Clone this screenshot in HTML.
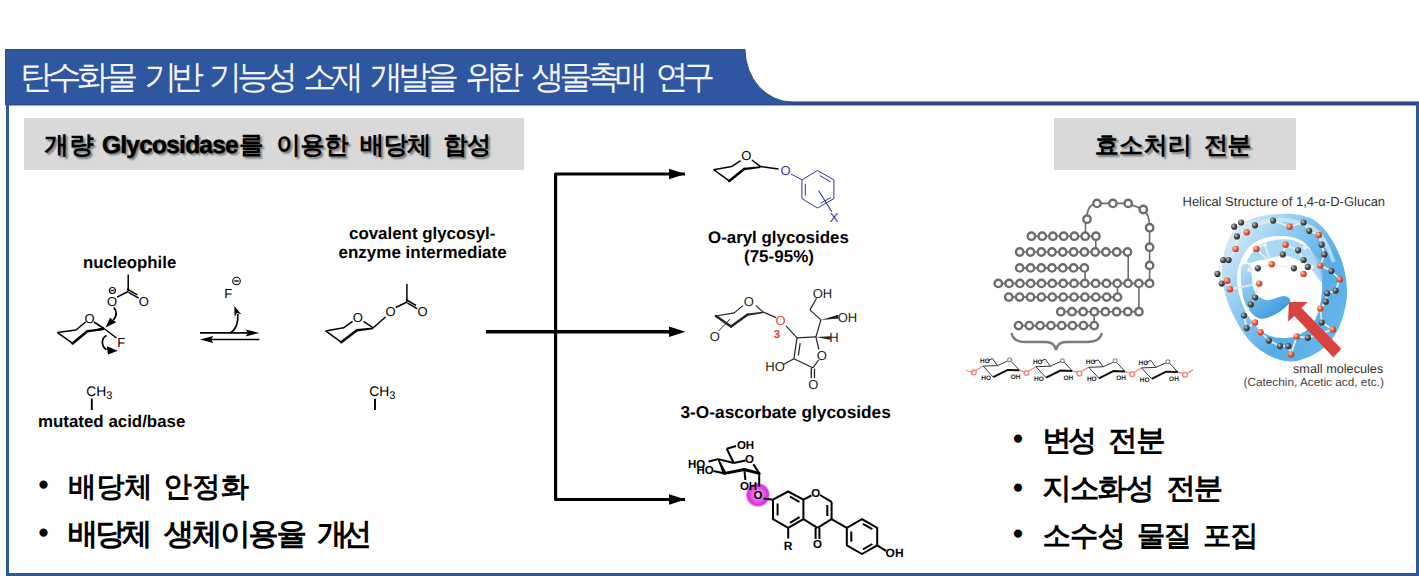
<!DOCTYPE html>
<html lang="ko"><head><meta charset="utf-8"><title>탄수화물 기반 기능성 소재 개발을 위한 생물촉매 연구</title>
<style>
html,body{margin:0;padding:0;background:#fff;}
body{width:1419px;height:576px;overflow:hidden;position:relative;font-family:"Liberation Sans",sans-serif;text-rendering:geometricPrecision;}
svg.g{position:absolute;left:0;top:0;font-family:"Liberation Sans",sans-serif;}
.t{position:absolute;white-space:nowrap;}
.ttl{color:#F4F4F6;-webkit-text-stroke:1.2px #F4F4F6;}
.lab{font-weight:bold;color:#000;text-shadow:2px 2px 2px rgba(0,0,0,.45);}
.lk{-webkit-text-stroke:1.9px #000;}
.kb{font-weight:bold;color:#000;-webkit-text-stroke:2.4px #000;}
body.hangul .kw{left:var(--l2)!important;top:var(--t2)!important;font-size:var(--fs2)!important;line-height:var(--lh2)!important;letter-spacing:var(--ls2)!important;-webkit-text-stroke:0!important;}
</style></head><body>
<svg class="g" width="1419" height="576" viewBox="0 0 1419 576">
<defs>
<radialGradient id="mg" cx="0.5" cy="0.5" r="0.5"><stop offset="0" stop-color="#f8c8f8"/><stop offset="0.5" stop-color="#e860ea"/><stop offset="0.85" stop-color="#d62fdc"/><stop offset="1" stop-color="#e070e4" stop-opacity="0.6"/></radialGradient>
<linearGradient id="hb" x1="0" y1="0.1" x2="1" y2="0.9"><stop offset="0" stop-color="#e2f2fc"/><stop offset="0.3" stop-color="#98cff2"/><stop offset="0.65" stop-color="#55ade8"/><stop offset="1" stop-color="#6cbaec"/></linearGradient>
<linearGradient id="hi" x1="0" y1="0" x2="0.6" y2="1"><stop offset="0" stop-color="#bfe2f7"/><stop offset="1" stop-color="#3e9de0"/></linearGradient>
<radialGradient id="ag" cx="0.35" cy="0.35" r="0.7"><stop offset="0" stop-color="#c8c8c8"/><stop offset="0.5" stop-color="#555"/><stop offset="1" stop-color="#222"/></radialGradient>
<radialGradient id="ar" cx="0.35" cy="0.35" r="0.7"><stop offset="0" stop-color="#ffd0b0"/><stop offset="0.5" stop-color="#f06040"/><stop offset="1" stop-color="#b83020"/></radialGradient>
</defs>
<path d="M5.5,49.5 H745 A47,53 0 0 0 792,102 H1419 V105 H5.5 Z" fill="#2F56A0" stroke="#2B4B85" stroke-width="1"/>
<rect x="790" y="101.8" width="629" height="3.2" fill="#2B4B85"/>
<rect x="6" y="104" width="3" height="472" fill="#2F56A0"/>
<rect x="1416" y="103" width="3" height="473" fill="#2F56A0"/>
<rect x="6" y="573" width="1413" height="3" fill="#2F56A0"/>
<rect x="24" y="118" width="500" height="52" fill="#D9D9D9"/>
<rect x="1054" y="118" width="242" height="52" fill="#D9D9D9"/>
<path d="M685,174 H555.6 V499.5 H685" fill="none" stroke="#000" stroke-width="3.2" stroke-linejoin="round"/>
<path d="M486,331.8 H675" fill="none" stroke="#000" stroke-width="3.4"/>
<path d="M669,168.8 L685.5,174 L669,179.2 Z" fill="#000"/>
<path d="M669,326.6 L685.5,331.8 L669,337.0 Z" fill="#000"/>
<path d="M669,494.3 L685.5,499.5 L669,504.7 Z" fill="#000"/>
<path d="M57.3,332.4 L72.6,343.4" fill="none" stroke="#000" stroke-width="1.5" stroke-linejoin="round"/>
<line x1="72.6" y1="343.4" x2="87.3" y2="331.2" stroke="#000" stroke-width="2.6" stroke-linecap="round"/>
<path d="M87.3,331.5 L104.3,330.0 L103.7,327.0 Z" fill="#000"/>
<path d="M87.3,330.0 L104,328.2 L104,330.0 L87.3,332.5 Z" fill="#000"/>
<path d="M57.3,332.4 L76.0,330.0 L85.6,322.0" fill="none" stroke="#000" stroke-width="1.5" stroke-linejoin="round"/>
<line x1="94.0" y1="322.0" x2="104.0" y2="328.5" stroke="#000" stroke-width="1.5" stroke-linecap="butt"/>
<text x="89.6" y="322.9" font-size="13" fill="#000" font-weight="normal" text-anchor="middle">O</text>
<line x1="104.0" y1="328.5" x2="116.5" y2="338.0" stroke="#000" stroke-width="1.5" stroke-linecap="butt"/>
<text x="121.3" y="346.8" font-size="13" fill="#000" font-weight="normal" text-anchor="middle">F</text>
<path d="M113.8,307.5 C116.8,311 117,315.5 113.5,320" fill="none" stroke="#000" stroke-width="1.7"/>
<path d="M105.5,327.5 L110.0,317.8 L116.2,322.3 Z" fill="#000"/>
<path d="M106.5,335.5 C101.5,338 100.5,345.5 106.5,349.8" fill="none" stroke="#000" stroke-width="1.7"/>
<path d="M117.8,350.8 L106.8,346.2 L108.0,354.6 Z" fill="#000"/>
<text x="112.0" y="306.3" font-size="13" fill="#000" font-weight="normal" text-anchor="middle">O</text>
<circle cx="112.4" cy="290.5" r="3.0" fill="none" stroke="#000" stroke-width="1.1"/>
<line x1="110.6" y1="290.5" x2="114.2" y2="290.5" stroke="#000" stroke-width="1.3" stroke-linecap="butt"/>
<line x1="117.1" y1="297.1" x2="128.2" y2="291.5" stroke="#000" stroke-width="1.5" stroke-linecap="butt"/>
<line x1="128.2" y1="291.5" x2="128.2" y2="274.5" stroke="#000" stroke-width="1.5" stroke-linecap="butt"/>
<line x1="128.6" y1="292.3" x2="138.7" y2="298.2" stroke="#000" stroke-width="1.5" stroke-linecap="butt"/>
<line x1="127.0" y1="288.9" x2="137.3" y2="294.8" stroke="#000" stroke-width="1.5" stroke-linecap="butt"/>
<text x="143.7" y="306.3" font-size="13" fill="#000" font-weight="normal" text-anchor="middle">O</text>
<text x="228.2" y="297.7" font-size="13" fill="#000" font-weight="normal" text-anchor="middle">F</text>
<circle cx="236.5" cy="281.0" r="3.8" fill="none" stroke="#000" stroke-width="1.1"/>
<line x1="234.2" y1="281.0" x2="238.8" y2="281.0" stroke="#000" stroke-width="1.3" stroke-linecap="butt"/>
<line x1="200.0" y1="332.9" x2="250.0" y2="332.9" stroke="#000" stroke-width="1.6" stroke-linecap="butt"/>
<path d="M259.4,332.9 L245.6,329.4 L248,332.9 L245.6,336.4 Z" fill="#000"/>
<line x1="209.0" y1="339.5" x2="259.4" y2="339.5" stroke="#000" stroke-width="1.6" stroke-linecap="butt"/>
<path d="M200,339.5 L213.4,336.0 L211,339.5 L213.4,343.0 Z" fill="#000"/>
<path d="M230,332.9 C236,330 238.5,322 237.8,314" fill="none" stroke="#000" stroke-width="1.7"/>
<path d="M234.3,306.0 L241.3,314.2 L237.0,313.1 L234.5,316.8 Z" fill="#000"/>
<text x="86.3" y="395.9" font-size="13.8" fill="#000" font-weight="normal" text-anchor="start">CH<tspan font-size="11" dy="2.8">3</tspan></text>
<line x1="91.8" y1="398.6" x2="91.8" y2="410.0" stroke="#000" stroke-width="1.9" stroke-linecap="butt"/>
<text x="369.3" y="395.9" font-size="13.8" fill="#000" font-weight="normal" text-anchor="start">CH<tspan font-size="11" dy="2.8">3</tspan></text>
<line x1="375.0" y1="398.8" x2="375.0" y2="410.0" stroke="#000" stroke-width="1.9" stroke-linecap="butt"/>
<path d="M325.6,330.9 L341.2,342.2" fill="none" stroke="#000" stroke-width="1.5" stroke-linejoin="round"/>
<line x1="341.2" y1="342.2" x2="356.9" y2="330.2" stroke="#000" stroke-width="2.6" stroke-linecap="round"/>
<path d="M356.9,329.0 L373.3,327.5 L373.3,329.3 L356.9,331.5 Z" fill="#000"/>
<path d="M325.6,330.9 L343.6,327.8 L352.6,321.3" fill="none" stroke="#000" stroke-width="1.5" stroke-linejoin="round"/>
<line x1="363.5" y1="321.3" x2="373.3" y2="327.8" stroke="#000" stroke-width="1.5" stroke-linecap="butt"/>
<text x="357.7" y="321.6" font-size="13" fill="#000" font-weight="normal" text-anchor="middle">O</text>
<line x1="373.3" y1="327.8" x2="385.5" y2="317.0" stroke="#000" stroke-width="1.5" stroke-linecap="butt"/>
<text x="390.5" y="316.1" font-size="13" fill="#000" font-weight="normal" text-anchor="middle">O</text>
<line x1="395.8" y1="307.5" x2="406.9" y2="302.0" stroke="#000" stroke-width="1.5" stroke-linecap="butt"/>
<line x1="406.9" y1="302.0" x2="406.9" y2="284.0" stroke="#000" stroke-width="1.5" stroke-linecap="butt"/>
<line x1="407.3" y1="302.8" x2="417.4" y2="308.9" stroke="#000" stroke-width="1.5" stroke-linecap="butt"/>
<line x1="405.8" y1="299.4" x2="416.0" y2="305.5" stroke="#000" stroke-width="1.5" stroke-linecap="butt"/>
<text x="422.5" y="316.1" font-size="13" fill="#000" font-weight="normal" text-anchor="middle">O</text>
<path d="M713.6,169.7 L729.2,180.9" fill="none" stroke="#000" stroke-width="1.5" stroke-linejoin="round"/>
<line x1="729.2" y1="180.9" x2="744.1" y2="168.9" stroke="#000" stroke-width="2.6" stroke-linecap="round"/>
<path d="M744.1,167.70000000000002 L760.5,166.29999999999998 L760.5,168.1 L744.1,170.20000000000002 Z" fill="#000"/>
<path d="M713.6,169.7 L731.6,166.6 L740.6,160.6" fill="none" stroke="#000" stroke-width="1.5" stroke-linejoin="round"/>
<line x1="751.9" y1="160.0" x2="760.5" y2="166.6" stroke="#000" stroke-width="1.5" stroke-linecap="butt"/>
<text x="746.4" y="160.3" font-size="13" fill="#000" font-weight="normal" text-anchor="middle">O</text>
<line x1="760.5" y1="166.6" x2="778.5" y2="169.0" stroke="#000" stroke-width="1.5" stroke-linecap="butt"/>
<text x="785.5" y="175.2" font-size="13" fill="#33339A" font-weight="normal" text-anchor="middle">O</text>
<line x1="791.0" y1="174.0" x2="801.9" y2="179.8" stroke="#33339A" stroke-width="1.0" stroke-linecap="butt"/>
<path d="M801.9,179.8 L817.5,170.5 L833.9,179.8 L833.9,198.6 L817.5,208.0 L801.9,198.6 Z" fill="none" stroke="#33339A" stroke-width="1.0" stroke-linejoin="round"/>
<line x1="819.8" y1="175.6" x2="830.8" y2="182.0" stroke="#33339A" stroke-width="1.0" stroke-linecap="butt"/>
<line x1="805.3" y1="183.7" x2="805.3" y2="195.5" stroke="#33339A" stroke-width="1.0" stroke-linecap="butt"/>
<line x1="820.6" y1="203.3" x2="830.8" y2="197.5" stroke="#33339A" stroke-width="1.0" stroke-linecap="butt"/>
<line x1="818.5" y1="190.5" x2="831.8" y2="211.8" stroke="#33339A" stroke-width="1.1" stroke-linecap="butt"/>
<text x="834.2" y="221.9" font-size="13" fill="#33339A" font-weight="normal" text-anchor="middle">X</text>
<line x1="715.9" y1="316.0" x2="731.0" y2="326.5" stroke="#222" stroke-width="2.4" stroke-linecap="round"/>
<line x1="731.0" y1="326.5" x2="747.7" y2="314.5" stroke="#222" stroke-width="2.4" stroke-linecap="round"/>
<path d="M747.7,313.4 L762.8,311.7 L762.8,313.2 L747.7,315.7 Z" fill="#222"/>
<path d="M715.9,316.0 L734.2,312.9 L743.0,305.6" fill="none" stroke="#222" stroke-width="1.2" stroke-linejoin="round"/>
<line x1="756.0" y1="305.6" x2="762.8" y2="311.9" stroke="#222" stroke-width="1.2" stroke-linecap="butt"/>
<text x="748.8" y="305.7" font-size="13" fill="#222" font-weight="normal" text-anchor="middle">O</text>
<line x1="730.2" y1="319.0" x2="718.6" y2="331.0" stroke="#222" stroke-width="1.0" stroke-linecap="butt"/>
<text x="714.9" y="340.5" font-size="13" fill="#222" font-weight="normal" text-anchor="middle">O</text>
<line x1="762.8" y1="311.9" x2="776.2" y2="317.6" stroke="#222" stroke-width="1.2" stroke-linecap="butt"/>
<text x="780.6" y="324.9" font-size="13" fill="#E8413C" font-weight="normal" text-anchor="middle">O</text>
<text x="777.0" y="338.0" font-size="11.5" fill="#E8413C" font-weight="bold" text-anchor="middle">3</text>
<line x1="786.0" y1="325.9" x2="797.0" y2="337.9" stroke="#222" stroke-width="1.2" stroke-linecap="butt"/>
<line x1="797.0" y1="337.9" x2="815.9" y2="336.9" stroke="#222" stroke-width="1.2" stroke-linecap="butt"/>
<path d="M815.9,336.9 L830.4,339.8 L830.6,336.2 Z" fill="#222"/>
<text x="833.9" y="341.6" font-size="13" fill="#222" font-weight="normal" text-anchor="middle">H</text>
<line x1="815.9" y1="336.9" x2="820.9" y2="319.9" stroke="#222" stroke-width="1.2" stroke-linecap="butt"/>
<path d="M820.9,319.9 L838.9,318.5 L838.1,314.7 Z" fill="#222"/>
<text x="847.5" y="321.6" font-size="13" fill="#222" font-weight="normal" text-anchor="middle">OH</text>
<line x1="820.9" y1="319.9" x2="809.9" y2="309.9" stroke="#222" stroke-width="1.2" stroke-linecap="butt"/>
<line x1="809.9" y1="309.9" x2="816.5" y2="298.5" stroke="#222" stroke-width="1.2" stroke-linecap="butt"/>
<text x="822.5" y="297.7" font-size="13" fill="#222" font-weight="normal" text-anchor="middle">OH</text>
<line x1="815.9" y1="336.9" x2="818.9" y2="349.5" stroke="#222" stroke-width="1.2" stroke-linecap="butt"/>
<text x="821.9" y="359.6" font-size="13" fill="#222" font-weight="normal" text-anchor="middle">O</text>
<line x1="818.6" y1="360.0" x2="812.9" y2="367.8" stroke="#222" stroke-width="1.2" stroke-linecap="butt"/>
<line x1="811.3" y1="367.8" x2="811.3" y2="378.2" stroke="#222" stroke-width="1.3" stroke-linecap="butt"/>
<line x1="814.5" y1="368.6" x2="814.5" y2="378.2" stroke="#222" stroke-width="1.3" stroke-linecap="butt"/>
<text x="813.4" y="388.5" font-size="13" fill="#222" font-weight="normal" text-anchor="middle">O</text>
<line x1="812.9" y1="367.8" x2="793.9" y2="358.8" stroke="#222" stroke-width="1.2" stroke-linecap="butt"/>
<line x1="793.9" y1="358.8" x2="797.0" y2="337.9" stroke="#222" stroke-width="1.2" stroke-linecap="butt"/>
<line x1="800.2" y1="343.2" x2="798.4" y2="355.4" stroke="#222" stroke-width="1.2" stroke-linecap="butt"/>
<line x1="793.9" y1="358.8" x2="783.5" y2="364.5" stroke="#222" stroke-width="1.2" stroke-linecap="butt"/>
<text x="775.0" y="370.5" font-size="13" fill="#222" font-weight="normal" text-anchor="middle">HO</text>
<circle cx="757.9" cy="494.9" r="12" fill="url(#mg)"/>
<line x1="753.4" y1="464.3" x2="759.2" y2="473.4" stroke="#000" stroke-width="2.0" stroke-linecap="butt"/>
<line x1="733.8" y1="463.0" x2="745.6" y2="460.4" stroke="#000" stroke-width="2.0" stroke-linecap="butt"/>
<text x="749.5" y="463.2" font-size="11.5" fill="#000" font-weight="bold" text-anchor="middle">O</text>
<line x1="718.2" y1="459.1" x2="733.8" y2="463.0" stroke="#000" stroke-width="2.0" stroke-linecap="butt"/>
<line x1="733.8" y1="463.0" x2="726.7" y2="448.7" stroke="#000" stroke-width="2.0" stroke-linecap="butt"/>
<line x1="726.7" y1="448.7" x2="736.0" y2="446.0" stroke="#000" stroke-width="2.0" stroke-linecap="butt"/>
<text x="745.5" y="448.5" font-size="11.5" fill="#000" font-weight="bold" text-anchor="middle">OH</text>
<path d="M718.2,459.1 L723.2,473.4 L726.2,473.4 Z" fill="#000" stroke="#000" stroke-width="1.2"/>
<line x1="724.7" y1="473.4" x2="744.3" y2="469.5" stroke="#000" stroke-width="3.0" stroke-linecap="round"/>
<line x1="744.3" y1="469.5" x2="759.2" y2="473.4" stroke="#000" stroke-width="3.0" stroke-linecap="round"/>
<line x1="718.2" y1="459.1" x2="708.5" y2="461.5" stroke="#000" stroke-width="2.0" stroke-linecap="butt"/>
<text x="696.5" y="467.8" font-size="11.5" fill="#000" font-weight="bold" text-anchor="middle">HO</text>
<line x1="724.7" y1="473.4" x2="713.5" y2="471.0" stroke="#000" stroke-width="2.0" stroke-linecap="butt"/>
<text x="705.2" y="474.3" font-size="11.5" fill="#000" font-weight="bold" text-anchor="middle">HO</text>
<line x1="744.3" y1="469.5" x2="745.4" y2="480.0" stroke="#000" stroke-width="2.0" stroke-linecap="butt"/>
<text x="748.5" y="489.9" font-size="11.5" fill="#000" font-weight="bold" text-anchor="middle">OH</text>
<line x1="759.2" y1="473.4" x2="759.2" y2="486.5" stroke="#000" stroke-width="2.0" stroke-linecap="butt"/>
<text x="757.9" y="499.0" font-size="11.5" fill="#000" font-weight="bold" text-anchor="middle">O</text>
<line x1="763.5" y1="498.5" x2="773.0" y2="499.7" stroke="#000" stroke-width="2.0" stroke-linecap="butt"/>
<path d="M773.0,499.7 L788.2,491.5 L803.4,499.7 L803.4,519.2 L788.2,527.9 L773.0,519.2 Z" fill="none" stroke="#000" stroke-width="2.0" stroke-linejoin="round"/>
<line x1="777.6" y1="503.5" x2="777.6" y2="515.5" stroke="#000" stroke-width="2.0" stroke-linecap="butt"/>
<line x1="790.0" y1="496.6" x2="799.5" y2="502.0" stroke="#000" stroke-width="2.0" stroke-linecap="butt"/>
<line x1="790.0" y1="522.8" x2="799.5" y2="517.2" stroke="#000" stroke-width="2.0" stroke-linecap="butt"/>
<line x1="803.4" y1="499.7" x2="811.5" y2="495.5" stroke="#000" stroke-width="2.0" stroke-linecap="butt"/>
<text x="815.8" y="497.1" font-size="11.5" fill="#000" font-weight="bold" text-anchor="middle">O</text>
<line x1="820.0" y1="495.0" x2="831.6" y2="501.9" stroke="#000" stroke-width="2.0" stroke-linecap="butt"/>
<line x1="831.6" y1="501.9" x2="831.6" y2="519.2" stroke="#000" stroke-width="2.0" stroke-linecap="butt"/>
<line x1="827.3" y1="505.0" x2="827.3" y2="516.0" stroke="#000" stroke-width="2.0" stroke-linecap="butt"/>
<line x1="831.6" y1="519.2" x2="817.5" y2="527.9" stroke="#000" stroke-width="2.0" stroke-linecap="butt"/>
<line x1="817.5" y1="527.9" x2="803.4" y2="519.2" stroke="#000" stroke-width="2.0" stroke-linecap="butt"/>
<line x1="815.6" y1="527.9" x2="815.6" y2="539.0" stroke="#000" stroke-width="2.0" stroke-linecap="butt"/>
<line x1="819.4" y1="527.9" x2="819.4" y2="539.0" stroke="#000" stroke-width="2.0" stroke-linecap="butt"/>
<text x="817.5" y="548.3" font-size="11.5" fill="#000" font-weight="bold" text-anchor="middle">O</text>
<line x1="788.2" y1="527.9" x2="788.2" y2="538.5" stroke="#000" stroke-width="2.0" stroke-linecap="butt"/>
<text x="788.2" y="549.6" font-size="12" fill="#000" font-weight="bold" text-anchor="middle">R</text>
<line x1="831.6" y1="519.2" x2="846.8" y2="527.9" stroke="#000" stroke-width="2.0" stroke-linecap="butt"/>
<path d="M846.8,527.9 L862.0,519.2 L877.2,527.9 L877.2,545.3 L862.0,554.0 L846.8,545.3 Z" fill="none" stroke="#000" stroke-width="2.0" stroke-linejoin="round"/>
<line x1="851.3" y1="531.5" x2="851.3" y2="541.7" stroke="#000" stroke-width="2.0" stroke-linecap="butt"/>
<line x1="863.0" y1="523.8" x2="872.3" y2="529.2" stroke="#000" stroke-width="2.0" stroke-linecap="butt"/>
<line x1="863.0" y1="549.4" x2="872.3" y2="544.0" stroke="#000" stroke-width="2.0" stroke-linecap="butt"/>
<line x1="877.2" y1="545.3" x2="886.0" y2="550.8" stroke="#000" stroke-width="2.0" stroke-linecap="butt"/>
<text x="894.6" y="557.2" font-size="12" fill="#000" font-weight="bold" text-anchor="middle">OH</text>
<line x1="1031.4" y1="236.2" x2="1095.9" y2="236.2" stroke="#6c6c6c" stroke-width="1.6"/>
<line x1="1019.7" y1="252.0" x2="1127.5" y2="252.0" stroke="#6c6c6c" stroke-width="1.6"/>
<line x1="1019.7" y1="267.9" x2="1084.4" y2="267.9" stroke="#6c6c6c" stroke-width="1.6"/>
<line x1="998.3" y1="283.4" x2="1149.6" y2="283.4" stroke="#6c6c6c" stroke-width="1.6"/>
<line x1="1008.8" y1="297.1" x2="1117.5" y2="297.1" stroke="#6c6c6c" stroke-width="1.6"/>
<line x1="1060.8" y1="311.7" x2="1138.9" y2="311.7" stroke="#6c6c6c" stroke-width="1.6"/>
<line x1="1018.5" y1="325.6" x2="1094.2" y2="325.6" stroke="#6c6c6c" stroke-width="1.6"/>
<path d="M1086.8,219.2 C1086.8,210 1090,204 1097,203.4 L1128.2,203.4 L1143.3,209.5 Q1149.6,214 1149.6,227.7 L1149.6,283.4" fill="none" stroke="#6c6c6c" stroke-width="1.6"/>
<line x1="1085.5" y1="219.2" x2="1085.5" y2="236.2" stroke="#6c6c6c" stroke-width="1.6"/>
<line x1="1095.8" y1="236.2" x2="1095.8" y2="252" stroke="#6c6c6c" stroke-width="1.6"/>
<line x1="1085.1" y1="267.9" x2="1085.1" y2="283.4" stroke="#6c6c6c" stroke-width="1.6"/>
<line x1="1128.2" y1="252" x2="1128.2" y2="283.4" stroke="#6c6c6c" stroke-width="1.6"/>
<line x1="1117.5" y1="283.4" x2="1117.5" y2="297.1" stroke="#6c6c6c" stroke-width="1.6"/>
<line x1="1138.9" y1="283.4" x2="1138.9" y2="311.7" stroke="#6c6c6c" stroke-width="1.6"/>
<line x1="1094.2" y1="311.7" x2="1094.2" y2="325.6" stroke="#6c6c6c" stroke-width="1.6"/>
<circle cx="1031.4" cy="236.2" r="3.7" fill="#fff" stroke="#6c6c6c" stroke-width="2.4"/>
<circle cx="1042.2" cy="236.2" r="3.7" fill="#fff" stroke="#6c6c6c" stroke-width="2.4"/>
<circle cx="1052.9" cy="236.2" r="3.7" fill="#fff" stroke="#6c6c6c" stroke-width="2.4"/>
<circle cx="1063.7" cy="236.2" r="3.7" fill="#fff" stroke="#6c6c6c" stroke-width="2.4"/>
<circle cx="1074.4" cy="236.2" r="3.7" fill="#fff" stroke="#6c6c6c" stroke-width="2.4"/>
<circle cx="1085.2" cy="236.2" r="3.7" fill="#fff" stroke="#6c6c6c" stroke-width="2.4"/>
<circle cx="1095.9" cy="236.2" r="3.7" fill="#fff" stroke="#6c6c6c" stroke-width="2.4"/>
<circle cx="1019.7" cy="252.0" r="3.7" fill="#fff" stroke="#6c6c6c" stroke-width="2.4"/>
<circle cx="1030.5" cy="252.0" r="3.7" fill="#fff" stroke="#6c6c6c" stroke-width="2.4"/>
<circle cx="1041.3" cy="252.0" r="3.7" fill="#fff" stroke="#6c6c6c" stroke-width="2.4"/>
<circle cx="1052.0" cy="252.0" r="3.7" fill="#fff" stroke="#6c6c6c" stroke-width="2.4"/>
<circle cx="1062.8" cy="252.0" r="3.7" fill="#fff" stroke="#6c6c6c" stroke-width="2.4"/>
<circle cx="1073.6" cy="252.0" r="3.7" fill="#fff" stroke="#6c6c6c" stroke-width="2.4"/>
<circle cx="1084.4" cy="252.0" r="3.7" fill="#fff" stroke="#6c6c6c" stroke-width="2.4"/>
<circle cx="1095.2" cy="252.0" r="3.7" fill="#fff" stroke="#6c6c6c" stroke-width="2.4"/>
<circle cx="1105.9" cy="252.0" r="3.7" fill="#fff" stroke="#6c6c6c" stroke-width="2.4"/>
<circle cx="1116.7" cy="252.0" r="3.7" fill="#fff" stroke="#6c6c6c" stroke-width="2.4"/>
<circle cx="1127.5" cy="252.0" r="3.7" fill="#fff" stroke="#6c6c6c" stroke-width="2.4"/>
<circle cx="1019.7" cy="267.9" r="3.7" fill="#fff" stroke="#6c6c6c" stroke-width="2.4"/>
<circle cx="1030.5" cy="267.9" r="3.7" fill="#fff" stroke="#6c6c6c" stroke-width="2.4"/>
<circle cx="1041.3" cy="267.9" r="3.7" fill="#fff" stroke="#6c6c6c" stroke-width="2.4"/>
<circle cx="1052.0" cy="267.9" r="3.7" fill="#fff" stroke="#6c6c6c" stroke-width="2.4"/>
<circle cx="1062.8" cy="267.9" r="3.7" fill="#fff" stroke="#6c6c6c" stroke-width="2.4"/>
<circle cx="1073.6" cy="267.9" r="3.7" fill="#fff" stroke="#6c6c6c" stroke-width="2.4"/>
<circle cx="1084.4" cy="267.9" r="3.7" fill="#fff" stroke="#6c6c6c" stroke-width="2.4"/>
<circle cx="998.3" cy="283.4" r="3.7" fill="#fff" stroke="#6c6c6c" stroke-width="2.4"/>
<circle cx="1009.1" cy="283.4" r="3.7" fill="#fff" stroke="#6c6c6c" stroke-width="2.4"/>
<circle cx="1019.9" cy="283.4" r="3.7" fill="#fff" stroke="#6c6c6c" stroke-width="2.4"/>
<circle cx="1030.7" cy="283.4" r="3.7" fill="#fff" stroke="#6c6c6c" stroke-width="2.4"/>
<circle cx="1041.5" cy="283.4" r="3.7" fill="#fff" stroke="#6c6c6c" stroke-width="2.4"/>
<circle cx="1052.3" cy="283.4" r="3.7" fill="#fff" stroke="#6c6c6c" stroke-width="2.4"/>
<circle cx="1063.2" cy="283.4" r="3.7" fill="#fff" stroke="#6c6c6c" stroke-width="2.4"/>
<circle cx="1074.0" cy="283.4" r="3.7" fill="#fff" stroke="#6c6c6c" stroke-width="2.4"/>
<circle cx="1084.8" cy="283.4" r="3.7" fill="#fff" stroke="#6c6c6c" stroke-width="2.4"/>
<circle cx="1095.6" cy="283.4" r="3.7" fill="#fff" stroke="#6c6c6c" stroke-width="2.4"/>
<circle cx="1106.4" cy="283.4" r="3.7" fill="#fff" stroke="#6c6c6c" stroke-width="2.4"/>
<circle cx="1117.2" cy="283.4" r="3.7" fill="#fff" stroke="#6c6c6c" stroke-width="2.4"/>
<circle cx="1128.0" cy="283.4" r="3.7" fill="#fff" stroke="#6c6c6c" stroke-width="2.4"/>
<circle cx="1138.8" cy="283.4" r="3.7" fill="#fff" stroke="#6c6c6c" stroke-width="2.4"/>
<circle cx="1149.6" cy="283.4" r="3.7" fill="#fff" stroke="#6c6c6c" stroke-width="2.4"/>
<circle cx="1008.8" cy="297.1" r="3.7" fill="#fff" stroke="#6c6c6c" stroke-width="2.4"/>
<circle cx="1019.6" cy="297.1" r="3.7" fill="#fff" stroke="#6c6c6c" stroke-width="2.4"/>
<circle cx="1030.5" cy="297.1" r="3.7" fill="#fff" stroke="#6c6c6c" stroke-width="2.4"/>
<circle cx="1041.4" cy="297.1" r="3.7" fill="#fff" stroke="#6c6c6c" stroke-width="2.4"/>
<circle cx="1052.3" cy="297.1" r="3.7" fill="#fff" stroke="#6c6c6c" stroke-width="2.4"/>
<circle cx="1063.2" cy="297.1" r="3.7" fill="#fff" stroke="#6c6c6c" stroke-width="2.4"/>
<circle cx="1074.0" cy="297.1" r="3.7" fill="#fff" stroke="#6c6c6c" stroke-width="2.4"/>
<circle cx="1084.9" cy="297.1" r="3.7" fill="#fff" stroke="#6c6c6c" stroke-width="2.4"/>
<circle cx="1095.8" cy="297.1" r="3.7" fill="#fff" stroke="#6c6c6c" stroke-width="2.4"/>
<circle cx="1106.7" cy="297.1" r="3.7" fill="#fff" stroke="#6c6c6c" stroke-width="2.4"/>
<circle cx="1117.5" cy="297.1" r="3.7" fill="#fff" stroke="#6c6c6c" stroke-width="2.4"/>
<circle cx="1060.8" cy="311.7" r="3.7" fill="#fff" stroke="#6c6c6c" stroke-width="2.4"/>
<circle cx="1072.0" cy="311.7" r="3.7" fill="#fff" stroke="#6c6c6c" stroke-width="2.4"/>
<circle cx="1083.1" cy="311.7" r="3.7" fill="#fff" stroke="#6c6c6c" stroke-width="2.4"/>
<circle cx="1094.3" cy="311.7" r="3.7" fill="#fff" stroke="#6c6c6c" stroke-width="2.4"/>
<circle cx="1105.4" cy="311.7" r="3.7" fill="#fff" stroke="#6c6c6c" stroke-width="2.4"/>
<circle cx="1116.6" cy="311.7" r="3.7" fill="#fff" stroke="#6c6c6c" stroke-width="2.4"/>
<circle cx="1127.8" cy="311.7" r="3.7" fill="#fff" stroke="#6c6c6c" stroke-width="2.4"/>
<circle cx="1138.9" cy="311.7" r="3.7" fill="#fff" stroke="#6c6c6c" stroke-width="2.4"/>
<circle cx="1018.5" cy="325.6" r="3.7" fill="#fff" stroke="#6c6c6c" stroke-width="2.4"/>
<circle cx="1029.3" cy="325.6" r="3.7" fill="#fff" stroke="#6c6c6c" stroke-width="2.4"/>
<circle cx="1040.1" cy="325.6" r="3.7" fill="#fff" stroke="#6c6c6c" stroke-width="2.4"/>
<circle cx="1050.9" cy="325.6" r="3.7" fill="#fff" stroke="#6c6c6c" stroke-width="2.4"/>
<circle cx="1061.7" cy="325.6" r="3.7" fill="#fff" stroke="#6c6c6c" stroke-width="2.4"/>
<circle cx="1072.5" cy="325.6" r="3.7" fill="#fff" stroke="#6c6c6c" stroke-width="2.4"/>
<circle cx="1083.4" cy="325.6" r="3.7" fill="#fff" stroke="#6c6c6c" stroke-width="2.4"/>
<circle cx="1094.2" cy="325.6" r="3.7" fill="#fff" stroke="#6c6c6c" stroke-width="2.4"/>
<circle cx="1097.0" cy="203.4" r="3.7" fill="#fff" stroke="#6c6c6c" stroke-width="2.4"/>
<circle cx="1112.9" cy="203.4" r="3.7" fill="#fff" stroke="#6c6c6c" stroke-width="2.4"/>
<circle cx="1128.2" cy="203.4" r="3.7" fill="#fff" stroke="#6c6c6c" stroke-width="2.4"/>
<circle cx="1143.3" cy="209.5" r="3.7" fill="#fff" stroke="#6c6c6c" stroke-width="2.4"/>
<circle cx="1149.6" cy="227.7" r="3.7" fill="#fff" stroke="#6c6c6c" stroke-width="2.4"/>
<circle cx="1149.6" cy="247.2" r="3.7" fill="#fff" stroke="#6c6c6c" stroke-width="2.4"/>
<circle cx="1149.6" cy="265.4" r="3.7" fill="#fff" stroke="#6c6c6c" stroke-width="2.4"/>
<circle cx="1087.0" cy="219.2" r="3.7" fill="#fff" stroke="#6c6c6c" stroke-width="2.4"/>
<path d="M1011.5,333 C1012.5,340 1018,342 1026,342 L1046,342 C1052,342 1055,345 1056,350 C1057,345 1060,342 1066,342 L1087,342 C1095,342 1100.5,340 1101.8,333" fill="none" stroke="#7a7a7a" stroke-width="2.3"/>
<line x1="966" y1="370.5" x2="973.8" y2="372.4" stroke="#F08080" stroke-width="1.2"/>
<circle cx="973.8" cy="372.4" r="2.4" fill="none" stroke="#F08080" stroke-width="1.3"/>
<path d="M975.8,370.4 L983.1,366.1" stroke="#F08080" stroke-width="1.2"/>
<path d="M983.1,366.1 L997.5,365.6 L1007.4,361.1 M1011.4,361.6 L1019.5,370.3" fill="none" stroke="#333" stroke-width="1.0"/>
<path d="M983.1,366.1 L993.3,377.1" stroke="#333" stroke-width="1.0"/>
<path d="M993.3,377.1 L1007.7,369.9 L1019.5,370.3" fill="none" stroke="#111" stroke-width="2.0" stroke-linejoin="round"/>
<path d="M1019.5,370.3 L1024.6,372.0" stroke="#F08080" stroke-width="1.2"/>
<path d="M997.5,365.6 L992.5,358.6 L987.5,360.6" fill="none" stroke="#333" stroke-width="1.0"/>
<text x="980.1" y="363.1" font-size="6.5" font-weight="bold" fill="#222">HO</text>
<text x="981.3" y="380.1" font-size="6.5" font-weight="bold" fill="#222">HO</text>
<text x="1010.7" y="378.9" font-size="6.5" font-weight="bold" fill="#222">OH</text>
<text x="1006.9" y="362.1" font-size="6.5" fill="#333">O</text>
<circle cx="1026.6" cy="373.0" r="2.4" fill="none" stroke="#F08080" stroke-width="1.3"/>
<path d="M1028.6,371.0 L1035.9,366.7" stroke="#F08080" stroke-width="1.2"/>
<path d="M1035.9,366.7 L1050.3,366.2 L1060.2,361.7 M1064.2,362.2 L1072.3,370.9" fill="none" stroke="#333" stroke-width="1.0"/>
<path d="M1035.9,366.7 L1046.1,377.7" stroke="#333" stroke-width="1.0"/>
<path d="M1046.1,377.7 L1060.5,370.5 L1072.3,370.9" fill="none" stroke="#111" stroke-width="2.0" stroke-linejoin="round"/>
<path d="M1072.3,370.9 L1077.4,372.6" stroke="#F08080" stroke-width="1.2"/>
<path d="M1050.3,366.2 L1045.3,359.2 L1040.3,361.2" fill="none" stroke="#333" stroke-width="1.0"/>
<text x="1032.9" y="363.7" font-size="6.5" font-weight="bold" fill="#222">HO</text>
<text x="1034.1" y="380.7" font-size="6.5" font-weight="bold" fill="#222">HO</text>
<text x="1063.5" y="379.5" font-size="6.5" font-weight="bold" fill="#222">OH</text>
<text x="1059.7" y="362.7" font-size="6.5" fill="#333">O</text>
<circle cx="1079.4" cy="373.6" r="2.4" fill="none" stroke="#F08080" stroke-width="1.3"/>
<path d="M1081.3999999999999,371.59999999999997 L1088.7,367.3" stroke="#F08080" stroke-width="1.2"/>
<path d="M1088.7,367.3 L1103.1,366.8 L1113.0,362.3 M1117.0,362.8 L1125.1,371.5" fill="none" stroke="#333" stroke-width="1.0"/>
<path d="M1088.7,367.3 L1098.9,378.3" stroke="#333" stroke-width="1.0"/>
<path d="M1098.9,378.3 L1113.3,371.1 L1125.1,371.5" fill="none" stroke="#111" stroke-width="2.0" stroke-linejoin="round"/>
<path d="M1125.1,371.5 L1130.2,373.2" stroke="#F08080" stroke-width="1.2"/>
<path d="M1103.1,366.8 L1098.1,359.8 L1093.1,361.8" fill="none" stroke="#333" stroke-width="1.0"/>
<text x="1085.7" y="364.3" font-size="6.5" font-weight="bold" fill="#222">HO</text>
<text x="1086.9" y="381.3" font-size="6.5" font-weight="bold" fill="#222">HO</text>
<text x="1116.3" y="380.1" font-size="6.5" font-weight="bold" fill="#222">OH</text>
<text x="1112.5" y="363.3" font-size="6.5" fill="#333">O</text>
<circle cx="1132.2" cy="374.2" r="2.4" fill="none" stroke="#F08080" stroke-width="1.3"/>
<path d="M1134.1999999999998,372.2 L1141.5,367.9" stroke="#F08080" stroke-width="1.2"/>
<path d="M1141.5,367.9 L1155.9,367.4 L1165.8,362.9 M1169.8,363.4 L1177.9,372.1" fill="none" stroke="#333" stroke-width="1.0"/>
<path d="M1141.5,367.9 L1151.7,378.9" stroke="#333" stroke-width="1.0"/>
<path d="M1151.7,378.9 L1166.1,371.7 L1177.9,372.1" fill="none" stroke="#111" stroke-width="2.0" stroke-linejoin="round"/>
<path d="M1177.9,372.1 L1183.0,373.8" stroke="#F08080" stroke-width="1.2"/>
<path d="M1155.9,367.4 L1150.9,360.4 L1145.9,362.4" fill="none" stroke="#333" stroke-width="1.0"/>
<text x="1138.5" y="364.9" font-size="6.5" font-weight="bold" fill="#222">HO</text>
<text x="1139.7" y="381.9" font-size="6.5" font-weight="bold" fill="#222">HO</text>
<text x="1169.1" y="380.7" font-size="6.5" font-weight="bold" fill="#222">OH</text>
<text x="1165.3" y="363.9" font-size="6.5" fill="#333">O</text>
<circle cx="1185.0" cy="374.8" r="2.4" fill="none" stroke="#F08080" stroke-width="1.3"/>
<line x1="1187.0" y1="373.8" x2="1193.0" y2="369.8" stroke="#F08080" stroke-width="1.2"/>
<path d="M1272.0,214.5 C1285.0,213.2 1302.7,213.1 1314.0,220.0 C1325.3,226.9 1334.6,242.7 1340.0,256.0 C1345.4,269.3 1348.2,285.7 1346.5,300.0 C1344.8,314.3 1339.1,331.8 1330.0,342.0 C1320.9,352.2 1304.5,360.8 1292.0,361.5 C1279.5,362.2 1265.3,354.9 1255.0,346.0 C1244.7,337.1 1235.5,321.3 1230.0,308.0 C1224.5,294.7 1221.0,279.3 1222.0,266.0 C1223.0,252.7 1227.7,236.6 1236.0,228.0 C1244.3,219.4 1259.0,215.8 1272.0,214.5 Z M1250.0,246.0 C1243.3,252.7 1237.7,265.0 1237.0,276.0 C1236.3,287.0 1240.8,302.2 1246.0,312.0 C1251.2,321.8 1259.7,331.0 1268.0,335.0 C1276.3,339.0 1288.0,338.8 1296.0,336.0 C1304.0,333.2 1311.7,327.4 1316.0,318.0 C1320.3,308.6 1323.4,291.7 1321.7,279.4 C1320.0,267.1 1313.5,251.2 1306.0,244.0 C1298.5,236.8 1286.3,235.7 1277.0,236.0 C1267.7,236.3 1256.7,239.3 1250.0,246.0 Z" fill="url(#hb)" fill-rule="evenodd"/>
<path d="M1232.0,246.0 C1235.3,242.7 1243.2,230.3 1252.0,226.0 C1260.8,221.7 1274.0,219.0 1285.0,220.0 C1296.0,221.0 1309.8,225.0 1318.0,232.0 C1326.2,239.0 1331.3,257.0 1334.0,262.0" fill="none" stroke="#d6ecfa" stroke-width="4" opacity="0.7"/>
<path d="M1247.0,262.0 C1247.0,259.3 1254.5,247.7 1262.0,244.0 C1269.5,240.3 1282.7,237.7 1292.0,240.0 C1301.3,242.3 1313.0,251.0 1318.0,258.0 C1323.0,265.0 1323.7,280.7 1322.0,282.0 C1320.3,283.3 1314.0,270.3 1308.0,266.0 C1302.0,261.7 1293.7,257.0 1286.0,256.0 C1278.3,255.0 1268.5,259.0 1262.0,260.0 C1255.5,261.0 1247.0,264.7 1247.0,262.0 Z" fill="#8ccbf0" opacity="0.75"/>
<path d="M1241.0,268.0 C1240.0,273.7 1241.2,291.7 1244.0,300.0 C1246.8,308.3 1252.7,315.7 1258.0,318.0 C1263.3,320.3 1270.7,316.7 1276.0,314.0 C1281.3,311.3 1288.7,305.0 1290.0,302.0 C1291.3,299.0 1288.0,296.3 1284.0,296.0 C1280.0,295.7 1271.0,301.0 1266.0,300.0 C1261.0,299.0 1256.7,295.7 1254.0,290.0 C1251.3,284.3 1252.2,269.7 1250.0,266.0 C1247.8,262.3 1242.0,262.3 1241.0,268.0 Z" fill="url(#hi)"/>
<path d="M1241.1,222.5 L1255.0,225.3 L1273.1,220.6 L1289.7,226.7 L1303.6,222.5 L1309.2,230.8 L1318.9,235.0 L1321.7,244.7 L1324.4,254.4 L1320.3,265.6 L1331.4,271.1 L1339.7,279.4 L1335.6,290.6 L1327.2,293.3 L1325.8,301.7 L1320.3,308.6 L1321.7,322.5 L1332.8,329.4 L1307.8,337.8 L1296.7,336.4 L1291.1,354.4 L1288.3,346.1 L1280.0,346.1 L1268.9,340.6 L1260.6,332.2 L1255.0,322.5 L1246.7,328.1 L1243.9,315.6 L1250.8,304.4 L1255.0,297.5 L1259.2,283.6 L1230.0,289.2 L1227.2,280.8 L1221.7,283.6 L1217.5,273.9 L1223.1,260.0 L1228.6,260.0 L1235.6,248.9 L1236.9,236.4 L1234.2,226.7 L1246.7,232.2 L1241.1,222.5" fill="none" stroke="#e8eaee" stroke-width="1.8"/>
<path d="M1249.4,269.7 L1257.8,268.3 L1271.7,264.2 L1264.7,244.7 L1256.4,248.9 L1271.7,264.2 L1293.9,268.3 L1303.6,273.9 L1307.8,266.9 L1303.6,260.0 L1298.1,250.3 L1285.6,244.7 L1282.8,254.4 L1293.9,268.3" fill="none" stroke="#eef0f2" stroke-width="1.5"/>
<circle cx="1264.7" cy="244.7" r="2.4" fill="#f2f2f2" stroke="#ccc" stroke-width="0.5"/>
<circle cx="1249.4" cy="269.7" r="2.4" fill="#f2f2f2" stroke="#ccc" stroke-width="0.5"/>
<circle cx="1305.0" cy="247.5" r="2.4" fill="#f2f2f2" stroke="#ccc" stroke-width="0.5"/>
<circle cx="1311.9" cy="266.9" r="2.4" fill="#f2f2f2" stroke="#ccc" stroke-width="0.5"/>
<circle cx="1241.1" cy="222.5" r="3.1" fill="url(#ag)"/>
<circle cx="1255.0" cy="225.3" r="3.1" fill="url(#ag)"/>
<circle cx="1273.1" cy="220.6" r="3.1" fill="url(#ag)"/>
<circle cx="1303.6" cy="222.5" r="3.1" fill="url(#ag)"/>
<circle cx="1309.2" cy="230.8" r="3.1" fill="url(#ag)"/>
<circle cx="1321.7" cy="244.7" r="3.1" fill="url(#ag)"/>
<circle cx="1324.4" cy="254.4" r="3.1" fill="url(#ag)"/>
<circle cx="1331.4" cy="271.1" r="3.1" fill="url(#ag)"/>
<circle cx="1335.6" cy="290.6" r="3.1" fill="url(#ag)"/>
<circle cx="1327.2" cy="293.3" r="3.1" fill="url(#ag)"/>
<circle cx="1325.8" cy="301.7" r="3.1" fill="url(#ag)"/>
<circle cx="1321.7" cy="322.5" r="3.1" fill="url(#ag)"/>
<circle cx="1307.8" cy="337.8" r="3.1" fill="url(#ag)"/>
<circle cx="1288.3" cy="346.1" r="3.1" fill="url(#ag)"/>
<circle cx="1280.0" cy="346.1" r="3.1" fill="url(#ag)"/>
<circle cx="1268.9" cy="340.6" r="3.1" fill="url(#ag)"/>
<circle cx="1246.7" cy="328.1" r="3.1" fill="url(#ag)"/>
<circle cx="1243.9" cy="315.6" r="3.1" fill="url(#ag)"/>
<circle cx="1250.8" cy="304.4" r="3.1" fill="url(#ag)"/>
<circle cx="1255.0" cy="297.5" r="3.1" fill="url(#ag)"/>
<circle cx="1236.9" cy="236.4" r="3.1" fill="url(#ag)"/>
<circle cx="1228.6" cy="260.0" r="3.1" fill="url(#ag)"/>
<circle cx="1223.1" cy="260.0" r="3.1" fill="url(#ag)"/>
<circle cx="1217.5" cy="273.9" r="3.1" fill="url(#ag)"/>
<circle cx="1221.7" cy="283.6" r="3.1" fill="url(#ag)"/>
<circle cx="1282.8" cy="254.4" r="3.1" fill="url(#ag)"/>
<circle cx="1298.1" cy="250.3" r="3.1" fill="url(#ag)"/>
<circle cx="1303.6" cy="260.0" r="3.1" fill="url(#ag)"/>
<circle cx="1307.8" cy="266.9" r="3.1" fill="url(#ag)"/>
<circle cx="1293.9" cy="268.3" r="3.1" fill="url(#ag)"/>
<circle cx="1257.8" cy="268.3" r="3.1" fill="url(#ag)"/>
<circle cx="1234.2" cy="226.7" r="3.1" fill="url(#ag)"/>
<circle cx="1246.7" cy="232.2" r="3.2" fill="url(#ar)"/>
<circle cx="1289.7" cy="226.7" r="3.2" fill="url(#ar)"/>
<circle cx="1318.9" cy="235.0" r="3.2" fill="url(#ar)"/>
<circle cx="1235.6" cy="248.9" r="3.2" fill="url(#ar)"/>
<circle cx="1256.4" cy="248.9" r="3.2" fill="url(#ar)"/>
<circle cx="1285.6" cy="244.7" r="3.2" fill="url(#ar)"/>
<circle cx="1271.7" cy="264.2" r="3.2" fill="url(#ar)"/>
<circle cx="1303.6" cy="273.9" r="3.2" fill="url(#ar)"/>
<circle cx="1320.3" cy="265.6" r="3.2" fill="url(#ar)"/>
<circle cx="1339.7" cy="279.4" r="3.2" fill="url(#ar)"/>
<circle cx="1259.2" cy="283.6" r="3.2" fill="url(#ar)"/>
<circle cx="1227.2" cy="280.8" r="3.2" fill="url(#ar)"/>
<circle cx="1230.0" cy="289.2" r="3.2" fill="url(#ar)"/>
<circle cx="1320.3" cy="308.6" r="3.2" fill="url(#ar)"/>
<circle cx="1332.8" cy="329.4" r="3.2" fill="url(#ar)"/>
<circle cx="1255.0" cy="322.5" r="3.2" fill="url(#ar)"/>
<circle cx="1260.6" cy="332.2" r="3.2" fill="url(#ar)"/>
<circle cx="1296.7" cy="336.4" r="3.2" fill="url(#ar)"/>
<circle cx="1291.1" cy="354.4" r="3.2" fill="url(#ar)"/>
<path d="M1288.9,301.9 L1307.7,301.9 L1301.5,308.0 L1341.3,348.8 L1333.4,357.6 L1294.4,316.0 L1288.1,321.4 Z" fill="#D9433F"/>
</svg>
<div class="t kw ttl" style="left:19.8px;top:52.2px;font-size:42px;line-height:50px;letter-spacing:-2.47px;--l2:20.0px;--t2:56.9px;--fs2:33.0px;--lh2:40px;--ls2:-4.62px;">탄수화물</div>
<div class="t kw ttl" style="left:144.0px;top:52.2px;font-size:42px;line-height:50px;letter-spacing:-2.80px;--l2:144.3px;--t2:56.9px;--fs2:33.0px;--lh2:40px;--ls2:-6.26px;">기반</div>
<div class="t kw ttl" style="left:208.8px;top:52.2px;font-size:42px;line-height:50px;letter-spacing:-2.55px;--l2:209.0px;--t2:56.9px;--fs2:33.0px;--lh2:40px;--ls2:-5.03px;">기능성</div>
<div class="t kw ttl" style="left:302.6px;top:52.2px;font-size:42px;line-height:50px;letter-spacing:-1.60px;--l2:302.9px;--t2:56.9px;--fs2:33.0px;--lh2:40px;--ls2:-5.06px;">소재</div>
<div class="t kw ttl" style="left:369.8px;top:52.2px;font-size:42px;line-height:50px;letter-spacing:-2.55px;--l2:370.1px;--t2:56.9px;--fs2:33.0px;--lh2:40px;--ls2:-5.03px;">개발을</div>
<div class="t kw ttl" style="left:464.9px;top:52.2px;font-size:42px;line-height:50px;letter-spacing:-4.00px;--l2:465.2px;--t2:56.9px;--fs2:33.0px;--lh2:40px;--ls2:-7.46px;">위한</div>
<div class="t kw ttl" style="left:531.0px;top:52.2px;font-size:42px;line-height:50px;letter-spacing:-2.90px;--l2:531.2px;--t2:56.9px;--fs2:33.0px;--lh2:40px;--ls2:-5.05px;">생물촉매</div>
<div class="t kw ttl" style="left:655.2px;top:52.2px;font-size:42px;line-height:50px;letter-spacing:-2.80px;--l2:655.5px;--t2:56.9px;--fs2:33.0px;--lh2:40px;--ls2:-6.26px;">연구</div>
<div class="t kw lab lk" style="left:44.5px;top:127.2px;font-size:32px;line-height:38px;letter-spacing:1.10px;--l2:44.3px;--t2:131.1px;--fs2:24.5px;--lh2:29px;--ls2:0.56px;">개량</div>
<div class="t kw lab lk" style="left:239.2px;top:127.2px;font-size:32px;line-height:38px;letter-spacing:0.00px;--l2:239.0px;--t2:131.1px;--fs2:24.5px;--lh2:29px;--ls2:0.00px;">를</div>
<div class="t kw lab lk" style="left:276.6px;top:127.2px;font-size:32px;line-height:38px;letter-spacing:0.00px;--l2:276.3px;--t2:131.1px;--fs2:24.5px;--lh2:29px;--ls2:-0.52px;">이용한</div>
<div class="t kw lab lk" style="left:360.1px;top:127.2px;font-size:32px;line-height:38px;letter-spacing:-0.40px;--l2:359.8px;--t2:131.1px;--fs2:24.5px;--lh2:29px;--ls2:-0.92px;">배당체</div>
<div class="t kw lab lk" style="left:443.4px;top:127.2px;font-size:32px;line-height:38px;letter-spacing:-0.30px;--l2:443.2px;--t2:131.1px;--fs2:24.5px;--lh2:29px;--ls2:-0.84px;">합성</div>
<div class="t lab" style="left:101.9px;top:131.3px;font-size:24.5px;line-height:29px;font-weight:bold;color:#000;letter-spacing:-0.75px;-webkit-text-stroke:0.5px #000;">Glycosidase</div>
<div class="t kw lab lk" style="left:1094.3px;top:126.7px;font-size:32px;line-height:38px;letter-spacing:0.70px;--l2:1094.8px;--t2:130.6px;--fs2:24.1px;--lh2:29px;--ls2:0.21px;">효소처리</div>
<div class="t kw lab lk" style="left:1203.4px;top:126.7px;font-size:32px;line-height:38px;letter-spacing:0.60px;--l2:1203.9px;--t2:130.6px;--fs2:24.1px;--lh2:29px;--ls2:-0.67px;">전분</div>
<div class="t" style="left:38.6px;top:467.5px;font-size:28.5px;line-height:34px;font-weight:bold;color:#000;">•</div>
<div class="t" style="left:38.6px;top:515.9px;font-size:28.5px;line-height:34px;font-weight:bold;color:#000;">•</div>
<div class="t kw kb" style="left:68.3px;top:463.4px;font-size:38px;line-height:46px;letter-spacing:-0.75px;--l2:68.2px;--t2:468.9px;--fs2:28.3px;--lh2:34px;--ls2:-0.32px;">배당체</div>
<div class="t kw kb" style="left:163.7px;top:463.4px;font-size:38px;line-height:46px;letter-spacing:-0.10px;--l2:163.6px;--t2:468.9px;--fs2:28.3px;--lh2:34px;--ls2:0.33px;">안정화</div>
<div class="t kw kb" style="left:68.0px;top:511.4px;font-size:38px;line-height:46px;letter-spacing:-0.60px;--l2:67.8px;--t2:516.0px;--fs2:30.4px;--lh2:36px;--ls2:-3.23px;">배당체</div>
<div class="t kw kb" style="left:163.9px;top:511.4px;font-size:38px;line-height:46px;letter-spacing:0.10px;--l2:163.7px;--t2:516.0px;--fs2:30.4px;--lh2:36px;--ls2:-2.17px;">생체이용율</div>
<div class="t kw kb" style="left:317.5px;top:511.4px;font-size:38px;line-height:46px;letter-spacing:-2.50px;--l2:317.3px;--t2:516.0px;--fs2:30.4px;--lh2:36px;--ls2:-5.87px;">개선</div>
<div class="t" style="left:1013.0px;top:421.9px;font-size:28.5px;line-height:34px;font-weight:bold;color:#000;">•</div>
<div class="t" style="left:1013.0px;top:470.5px;font-size:28.5px;line-height:34px;font-weight:bold;color:#000;">•</div>
<div class="t" style="left:1013.0px;top:517.1px;font-size:28.5px;line-height:34px;font-weight:bold;color:#000;">•</div>
<div class="t kw kb" style="left:1042.2px;top:417.9px;font-size:38px;line-height:46px;letter-spacing:-2.10px;--l2:1042.3px;--t2:423.0px;--fs2:29.3px;--lh2:35px;--ls2:-3.86px;">변성</div>
<div class="t kw kb" style="left:1108.2px;top:417.9px;font-size:38px;line-height:46px;letter-spacing:0.50px;--l2:1108.2px;--t2:423.0px;--fs2:29.3px;--lh2:35px;--ls2:-1.26px;">전분</div>
<div class="t kw kb" style="left:1042.2px;top:465.9px;font-size:38px;line-height:46px;letter-spacing:-0.53px;--l2:1042.3px;--t2:471.0px;--fs2:29.3px;--lh2:35px;--ls2:-1.65px;">지소화성</div>
<div class="t kw kb" style="left:1166.5px;top:465.9px;font-size:38px;line-height:46px;letter-spacing:-0.40px;--l2:1166.6px;--t2:471.0px;--fs2:29.3px;--lh2:35px;--ls2:-2.16px;">전분</div>
<div class="t kw kb" style="left:1042.2px;top:512.4px;font-size:38px;line-height:46px;letter-spacing:-0.95px;--l2:1042.4px;--t2:517.9px;--fs2:28.3px;--lh2:34px;--ls2:-0.77px;">소수성</div>
<div class="t kw kb" style="left:1137.0px;top:512.4px;font-size:38px;line-height:46px;letter-spacing:-2.10px;--l2:1137.1px;--t2:517.9px;--fs2:28.3px;--lh2:34px;--ls2:-1.94px;">물질</div>
<div class="t kw kb" style="left:1202.8px;top:512.4px;font-size:38px;line-height:46px;letter-spacing:-1.20px;--l2:1203.0px;--t2:517.9px;--fs2:28.3px;--lh2:34px;--ls2:-1.04px;">포집</div>
<div class="t" style="left:83.0px;top:252.7px;font-size:16.8px;line-height:20px;font-weight:bold;color:#000;">nucleophile</div>
<div class="t" style="left:349.0px;top:223.8px;font-size:16.9px;line-height:20px;font-weight:bold;color:#000;">covalent glycosyl-</div>
<div class="t" style="left:338.5px;top:242.8px;font-size:17px;line-height:20px;font-weight:bold;color:#000;">enzyme intermediate</div>
<div class="t" style="left:38.0px;top:412.4px;font-size:16.9px;line-height:20px;font-weight:bold;color:#000;">mutated acid/base</div>
<div class="t" style="left:708.0px;top:227.5px;font-size:16.9px;line-height:20px;font-weight:bold;color:#000;">O-aryl glycosides</div>
<div class="t" style="left:744.0px;top:247.1px;font-size:17px;line-height:20px;font-weight:bold;color:#000;">(75-95%)</div>
<div class="t" style="left:680.5px;top:402.2px;font-size:17.3px;line-height:21px;font-weight:bold;color:#000;">3-O-ascorbate glycosides</div>
<div class="t" style="left:1182.5px;top:193.5px;font-size:13.0px;line-height:16px;font-weight:normal;color:#333;">Helical Structure of 1,4-α-D-Glucan</div>
<div class="t" style="left:1293.0px;top:361.6px;font-size:12.7px;line-height:15px;font-weight:normal;color:#333;">small molecules</div>
<div class="t" style="left:1243.5px;top:374.9px;font-size:11.8px;line-height:14px;font-weight:normal;color:#444;">(Catechin, Acetic acd, etc.)</div>
<script>
(function(){
  /* If a Hangul-capable font is present, switch Korean words to real-glyph geometry. */
  var s=document.createElement('span');
  s.style.cssText='position:absolute;left:-9999px;top:0;font-size:40px;white-space:nowrap';
  s.textContent='가가가가';
  document.body.appendChild(s);
  var w=s.getBoundingClientRect().width;
  document.body.removeChild(s);
  if(w>4*40*0.85){document.body.classList.add('hangul');}
})();
</script>
</body></html>
